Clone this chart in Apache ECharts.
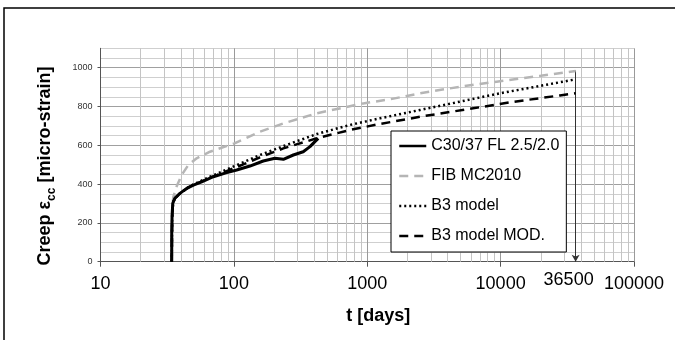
<!DOCTYPE html>
<html><head><meta charset="utf-8">
<script src="https://cdn.jsdelivr.net/npm/echarts@6/dist/echarts.min.js"></script>
<style>html,body{margin:0;padding:0;background:#fff}#c{width:675px;height:340px}</style>
</head><body><div id="c"></div>
<script>
// Experimental C30/37 FL 2.5/2.0
const expT = [34.2, 34.2, 34.4, 34.8, 36.1, 39.4, 44.3, 49.7, 57.4, 70.2, 88.3, 105, 132, 166, 203, 235, 279, 331, 372, 405, 429];
const expV = [0, 150, 232, 301, 327, 352, 378, 395, 412, 438, 459, 473, 493, 519, 533, 528, 550, 567, 593, 619, 636];
// FIB MC2010
const fibT = [34.2, 34.5, 35.2, 37.2, 40.6, 45.5, 52.6, 66.2, 101, 157, 235, 418, 934, 1479, 2485, 4955, 9330, 20000, 36500];
const fibV = [0, 280, 335, 387, 447, 498, 533, 567, 610, 670, 713, 765, 816, 837, 868, 902, 928, 958, 983];
// B3 model
const b3T = [34.2, 34.5, 35.2, 36.5, 40, 46.9, 66.2, 101, 157, 235, 418, 741, 1245, 2485, 4955, 9890, 19720, 36500];
const b3V = [0, 250, 310, 330, 355, 390, 438, 493, 550, 596, 658, 705, 739, 782, 825, 868, 906, 940];
// B3 model MOD.
const b3mT = [34.2, 34.5, 35.2, 36.5, 40, 46.9, 66.2, 101, 157, 235, 418, 741, 1245, 2630, 5890, 12420, 27860, 36500];
const b3mV = [0, 250, 310, 330, 355, 388, 433, 483, 538, 584, 636, 679, 710, 750, 788, 824, 857, 868];
// axis / reference values
const decades = [10, 100, 1000, 10000];
const minorMult = [2, 3, 4, 5, 6, 7, 8, 9];
const serviceLife = 36500;
const serviceLineTop = 985;

const FONT = 'Liberation Sans';
const zip = (a, b) => a.map((t, i) => [t, b[i]]);
const minorLines = [];
decades.forEach(d => minorMult.forEach(m => minorLines.push({ xAxis: d * m })));

const chart = echarts.init(document.getElementById('c'), null, { renderer: 'canvas' });
const option = {
  animation: false,
  backgroundColor: '#fff',
  graphic: [{
    type: 'rect', silent: true, z: 100,
    shape: { x: 4, y: 8, width: 720, height: 420 },
    style: { fill: 'none', stroke: '#000', lineWidth: 1.5 }
  }],
  grid: { left: 100.5, right: 41, top: 48.3, bottom: 78.3, containLabel: false },
  legend: {
    left: 391, top: 131, orient: 'vertical', padding: [7, 7, 8, 7], z: 10,
    itemGap: 14, itemWidth: 27, itemHeight: 14,
    backgroundColor: '#fff', borderColor: '#000', borderWidth: 1, borderRadius: 0,
    itemStyle: { opacity: 0 },
    lineStyle: { width: 2.5 },
    textStyle: { fontFamily: FONT, fontSize: 16, color: '#000' },
    data: ['C30/37 FL 2.5/2.0', 'FIB MC2010', 'B3 model', 'B3 model MOD.']
  },
  xAxis: {
    type: 'log', logBase: 10, min: 10, max: 100000,
    axisLine: { lineStyle: { color: '#555', width: 1 } },
    axisTick: { length: 5, lineStyle: { color: '#555' } },
    axisLabel: { fontFamily: FONT, fontSize: 18, color: '#000', margin: 13, formatter: v => String(Math.round(v)) },
    splitLine: { show: true, lineStyle: { color: '#9a9a9a', width: 1 } },
    name: 't [days]', nameLocation: 'middle', nameGap: 45,
    nameTextStyle: { fontFamily: FONT, fontSize: 18, fontWeight: 'bold', color: '#000', padding: [0, 0, 0, 22] }
  },
  yAxis: [{
    type: 'value', min: 0, max: 1100, interval: 50,
    axisLine: { show: false }, axisTick: { show: false }, axisLabel: { show: false },
    splitLine: { show: true, lineStyle: { color: ['#a0a0a0', '#cfcfcf', '#cfcfcf', '#cfcfcf'], width: 1 } }
  }, {
    type: 'value', min: 0, max: 1100, interval: 200, position: 'left',
    axisLine: { show: true, lineStyle: { color: '#555' } },
    axisTick: { show: true, length: 3, lineStyle: { color: '#555' } },
    axisLabel: { fontFamily: FONT, fontSize: 9, color: '#333', margin: 8, showMaxLabel: false, formatter: v => String(Math.round(v)) },
    splitLine: { show: false },
    name: '{a|Creep ε}{b|cc}{a| [micro-strain]}',
    nameLocation: 'middle', nameGap: 43, nameRotate: 90,
    nameTextStyle: {
      fontFamily: FONT, fontSize: 18, fontWeight: 'bold', color: '#000', padding: [0, 22, 0, 0],
      rich: {
        a: { fontFamily: FONT, fontSize: 18, fontWeight: 'bold', color: '#000', lineHeight: 24 },
        b: { fontFamily: FONT, fontSize: 12, fontWeight: 'bold', color: '#000', lineHeight: 12, verticalAlign: 'bottom' }
      }
    }
  }],
  series: [
    {
      type: 'line', data: [], z: 1, silent: true,
      markLine: {
        z: 1, silent: true, symbol: 'none', label: { show: false }, animation: false,
        lineStyle: { color: '#c4c4c4', width: 1, type: 'solid' },
        data: minorLines
      }
    },
    {
      name: 'FIB MC2010', type: 'line', data: zip(fibT, fibV), symbol: 'none', showSymbol: false,
      lineStyle: { color: '#b5b5b5', width: 2.5, type: [9, 6] }, itemStyle: { color: '#b5b5b5' }
    },
    {
      name: 'B3 model', type: 'line', data: zip(b3T, b3V), symbol: 'none', showSymbol: false,
      lineStyle: { color: '#000', width: 2.5, type: [2, 3] }, itemStyle: { color: '#000' }
    },
    {
      name: 'B3 model MOD.', type: 'line', data: zip(b3mT, b3mV), symbol: 'none', showSymbol: false,
      lineStyle: { color: '#000', width: 2.5, type: [9, 6] }, itemStyle: { color: '#000' }
    },
    {
      name: 'C30/37 FL 2.5/2.0', type: 'line', data: zip(expT, expV), symbol: 'none', showSymbol: false,
      lineStyle: { color: '#000', width: 3 }, itemStyle: { color: '#000' },
      markLine: {
        z: 3, silent: true, animation: false, symbol: ['none', 'arrow'], symbolSize: [6, 7],
        lineStyle: { color: '#333', width: 1, type: 'solid' },
        label: { show: true, position: 'end', distance: 9, padding: [0, 14, 0, 0], formatter: String(serviceLife), fontFamily: FONT, fontSize: 18, color: '#000' },
        data: [[{ coord: [serviceLife, serviceLineTop] }, { coord: [serviceLife, 0] }]]
      }
    }
  ]
};
chart.setOption(option);
</script>
</body></html>
